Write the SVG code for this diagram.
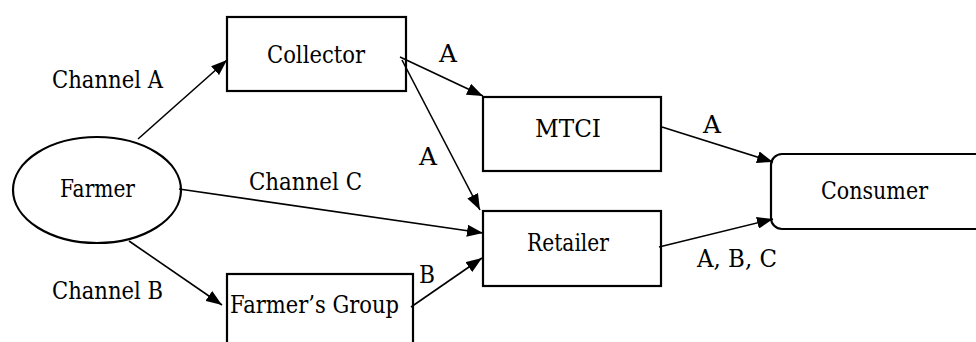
<svg xmlns="http://www.w3.org/2000/svg" width="976" height="342" viewBox="0 0 976 342">
  <style>
    .box { fill: #fff; stroke: #000; stroke-width: 2.2; }
    .lbl { font-family: 'DejaVu Serif', serif; font-size: 24px; fill: #000; }
    .edge { fill: none; stroke: #000; stroke-width: 1.6; marker-end: url(#head); }
  </style>
  <defs>
    <marker id="head" viewBox="0 0 16 12" refX="16" refY="6" markerWidth="16" markerHeight="12" markerUnits="userSpaceOnUse" orient="auto">
      <path d="M0,0 L16,6 L0,12 Z" fill="#000"/>
    </marker>
  </defs>

  <rect width="976" height="342" fill="#fff"/>

  <g id="farmer">
    <ellipse class="box" cx="97" cy="190" rx="84" ry="53"/>
    <text class="lbl" x="60" y="197" textLength="75" lengthAdjust="spacingAndGlyphs">Farmer</text>
  </g>
  <g id="collector">
    <rect class="box" x="227" y="17" width="179" height="74"/>
    <text class="lbl" x="267" y="63" textLength="98" lengthAdjust="spacingAndGlyphs">Collector</text>
  </g>
  <g id="mtci">
    <rect class="box" x="483" y="97" width="178" height="74"/>
    <text class="lbl" x="535" y="137" textLength="66" lengthAdjust="spacingAndGlyphs">MTCI</text>
  </g>
  <g id="retailer">
    <rect class="box" x="483" y="211" width="178" height="75"/>
    <text class="lbl" x="527" y="251" textLength="82" lengthAdjust="spacingAndGlyphs">Retailer</text>
  </g>
  <g id="farmers-group">
    <rect class="box" x="227" y="274" width="186" height="90"/>
    <text class="lbl" x="230" y="313" textLength="169" lengthAdjust="spacingAndGlyphs">Farmer’s Group</text>
  </g>
  <g id="consumer">
    <rect class="box" x="771" y="154" width="230" height="75" rx="11" ry="11"/>
    <text class="lbl" x="821" y="199" textLength="107" lengthAdjust="spacingAndGlyphs">Consumer</text>
  </g>

  <g id="connectors">
    <line class="edge" x1="138" y1="139" x2="227" y2="60"/>
    <line class="edge" x1="400" y1="57" x2="483" y2="96"/>
    <line class="edge" x1="402" y1="60" x2="480" y2="210"/>
    <line class="edge" x1="179" y1="189" x2="483" y2="233"/>
    <line class="edge" x1="129" y1="241" x2="222" y2="305"/>
    <line class="edge" x1="411" y1="307" x2="482" y2="258"/>
    <line class="edge" x1="662" y1="127" x2="773" y2="162"/>
    <line class="edge" x1="659" y1="247" x2="773" y2="219"/>
  </g>

  <g id="edge-labels">
    <text class="lbl" x="52" y="88" textLength="111" lengthAdjust="spacingAndGlyphs">Channel A</text>
    <text class="lbl" x="439" y="62" textLength="18" lengthAdjust="spacingAndGlyphs">A</text>
    <text class="lbl" x="419" y="165" textLength="18" lengthAdjust="spacingAndGlyphs">A</text>
    <text class="lbl" x="249" y="190" textLength="113" lengthAdjust="spacingAndGlyphs">Channel C</text>
    <text class="lbl" x="52" y="299" textLength="111" lengthAdjust="spacingAndGlyphs">Channel B</text>
    <text class="lbl" x="419" y="283" textLength="16" lengthAdjust="spacingAndGlyphs">B</text>
    <text class="lbl" x="703" y="133" textLength="18" lengthAdjust="spacingAndGlyphs">A</text>
    <text class="lbl" x="697" y="267" textLength="80" lengthAdjust="spacingAndGlyphs">A, B, C</text>
  </g>
</svg>
